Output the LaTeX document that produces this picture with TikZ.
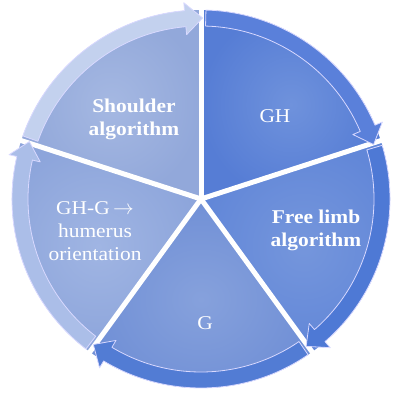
\documentclass[tikz,border=0pt]{standalone}
\usepackage{fontspec}
\setmainfont[FakeStretch=1.1]{Liberation Serif}
\definecolor{shS}{HTML}{A5B8E2}
\definecolor{shSo}{HTML}{92A8DA}
\definecolor{shB}{HTML}{C3D1EE}
\definecolor{ghS}{HTML}{6F92DC}
\definecolor{ghSo}{HTML}{567DD5}
\definecolor{ghB}{HTML}{5A80DA}
\definecolor{flS}{HTML}{7596DC}
\definecolor{flSo}{HTML}{6287D8}
\definecolor{flB}{HTML}{4E79D5}
\definecolor{gS}{HTML}{86A1DC}
\definecolor{gSo}{HTML}{7190D6}
\definecolor{gB}{HTML}{527CD4}
\definecolor{hgS}{HTML}{A0B5E3}
\definecolor{hgSo}{HTML}{8DA5DB}
\definecolor{hgB}{HTML}{ABBEE8}
\newcommand\cycwedge[4]{%
  \shade[inner color=#3, outer color=#4, shift={(C)}]
    (0,0) -- (#1:189pt) arc[start angle=#1, end angle=#2, radius=189pt] -- cycle;}
\newcommand\cycband[3]{%
  \filldraw[fill=#3, bandline, shift={(C)}]
    ({#1-1.5}:173pt) arc[start angle={#1-1.5}, end angle={#2+5}, radius=173pt]
    -- ({#2+5}:165pt) -- ({#2-0.5}:181pt) -- ({#2+5}:197pt) -- ({#2+5}:189pt)
    arc[start angle={#2+5}, end angle={#1-1.5}, radius=189pt] -- cycle;}
\begin{document}
\begin{tikzpicture}[x=1pt,y=1pt,
  lbl/.style={text=white,font=\fontsize{19.5}{23}\selectfont,align=center},
  blbl/.style={lbl,font=\fontsize{19.5}{23}\selectfont\bfseries},
  bandline/.style={draw=white!85!blue, line width=0.8pt, line join=round},
  gapline/.style={white, line width=5pt}]
\useasboundingbox (0,0) rectangle (396,393);
\coordinate (C) at (201,194);
\cycwedge{162}{90}{shS}{shSo}
\cycwedge{90}{18}{ghS}{ghSo}
\cycwedge{18}{-54}{flS}{flSo}
\cycwedge{-54}{-126}{gS}{gSo}
\cycwedge{-126}{-198}{hgS}{hgSo}
\foreach \a in {90,18,-54,-126,162}
  \draw[gapline] (C) -- ++(\a:198pt);
\cycband{162}{90}{shB}
\cycband{90}{18}{ghB}
\cycband{18}{-54}{flB}
\cycband{-54}{-126}{gB}
\cycband{-126}{-198}{hgB}
\node[blbl] (shoulder) at (134,274) {Shoulder\\algorithm};
\node[lbl] (gh) at (275,277) {GH};
\node[blbl] (free) at (316,163) {Free limb\\algorithm};
\node[lbl] (g) at (205,70) {G};
\node[lbl] (ghg) at (95,162) {GH-G\,$\rightarrow$\\humerus\\orientation};
\end{tikzpicture}
\end{document}
